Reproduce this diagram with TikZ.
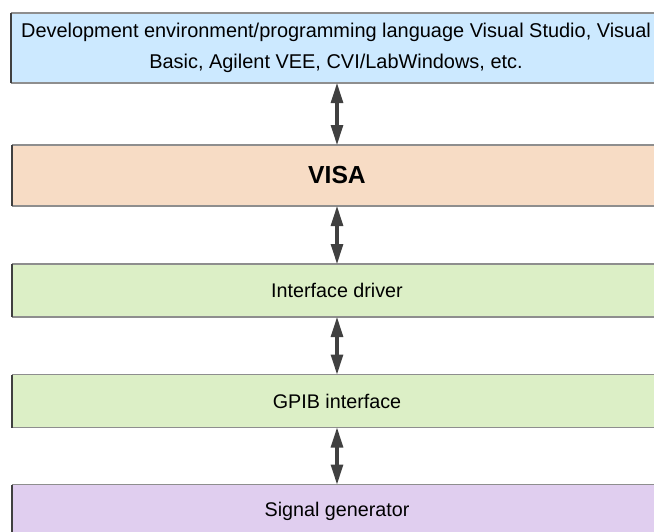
\documentclass[tikz,border=0pt]{standalone}
\usepackage{fontspec}
\setmainfont{Liberation Sans}
\usetikzlibrary{arrows.meta}
\definecolor{envblue}{HTML}{CCE9FF}
\definecolor{visapeach}{HTML}{F7DCC5}
\definecolor{drvgreen}{HTML}{DCEFC6}
\definecolor{genlilac}{HTML}{E0CEEF}
\definecolor{edgegray}{HTML}{8E8E8E}
\definecolor{edgedark}{HTML}{404040}
\definecolor{arrowgray}{HTML}{404040}
\begin{document}
\begin{tikzpicture}[x=0.75pt,y=-0.75pt,
  layer/.style={inner sep=0pt, outer sep=0pt, minimum width=487.5pt,
    font=\fontsize{14.8pt}{23.25pt}\selectfont, align=center},
  rim/.style={draw=edgegray, line width=1.3pt},
  side/.style={draw=edgedark, line width=1.3pt},
  link/.style={draw=arrowgray, line width=2.3pt,
    {Triangle[length=15pt,width=9pt]}-{Triangle[length=15pt,width=9pt]}}]
\useasboundingbox (0,0) rectangle (654,532);
\clip (0,0) rectangle (654,532);

% stacked layers
\node[layer, fill=envblue, minimum height=52.5pt,
  font=\fontsize{14.95pt}{23.25pt}\selectfont] (env) at (336,48)
  {Development environment/programming language Visual Studio, Visual\\
   Basic, Agilent VEE, CVI/LabWindows, etc.};
\node[layer, fill=visapeach, minimum height=45.75pt,
  font=\bfseries\fontsize{18.5pt}{22pt}\selectfont] (visa) at (337,175.5) {VISA};
\node[layer, fill=drvgreen, minimum height=39.75pt] (drv) at (337,290.5) {Interface driver};
\node[layer, fill=drvgreen, minimum height=39.75pt] (gpib) at (337,401) {\raisebox{-1.5pt}{GPIB interface}};
\node[layer, fill=genlilac, minimum height=39.75pt] (gen) at (337,511) {\raisebox{-2pt}{Signal generator}};

% box outlines: grey top and bottom, dark sides
\foreach \b in {env,visa,drv,gpib,gen}{
  \draw[rim] (\b.north west) -- (\b.north east);
  \draw[rim] (\b.south west) -- (\b.south east);
  \draw[side] (\b.north west) -- (\b.south west);
  \draw[side] (\b.north east) -- (\b.south east);
}

% two-way links between layers
\draw[link] (env.south -| visa.north) -- (visa.north);
\draw[link] (visa.south) -- (drv.north);
\draw[link] (drv.south) -- (gpib.north);
\draw[link] (gpib.south) -- (gen.north);
\end{tikzpicture}
\end{document}
